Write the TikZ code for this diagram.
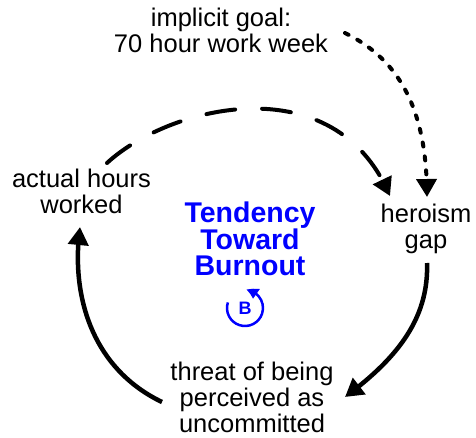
\documentclass[tikz,border=0pt]{standalone}
\usepackage{fontspec}
\setmainfont{Liberation Sans}
\usetikzlibrary{arrows.meta,bending}
\definecolor{loopblue}{RGB}{0,0,255}
\newcommand\tightlines{\lineskiplimit=-100pt\relax}
\begin{document}
\begin{tikzpicture}[x=1pt,y=-1pt,
  varlabel/.style={align=center, inner sep=0pt, anchor=base,
    font=\fontsize{25.5}{26}\selectfont\tightlines},
  looptitle/.style={align=center, inner sep=0pt, anchor=base, text=loopblue,
    font=\fontsize{28.5}{26}\selectfont\bfseries\tightlines},
  tip/.style={-{Triangle[length=18pt,width=20pt]}},
  solidlink/.style={tip, line width=4.5pt},
  delaylink/.style={tip, line width=4pt, line cap=round, dash pattern=on 29pt off 27pt},
  goallink/.style={tip, line width=4pt, line cap=round, dash pattern=on 4pt off 10pt},
]
\useasboundingbox (0,0) rectangle (476,438);

% variables (placed by the baseline of their last line)
\node[varlabel] (goal)   at (221,53)  {implicit goal:\\70 hour work week};
\node[varlabel] (actual) at (81.5,214) {actual hours\\worked};
\node[varlabel] (hero)   at (426,248) {heroism\\gap};
\node[varlabel] (threat) at (252,432) {threat of being\\perceived as\\uncommitted};

% loop name and balancing marker
\node[looptitle] (title) at (250,275) {Tendency\\Toward\\Burnout};
\node[text=loopblue, inner sep=0pt, font=\fontsize{18}{18}\selectfont\bfseries] (bsym) at (245,308) {B};
\draw[loopblue, line width=2.5pt, -{Triangle[length=11pt,width=11pt,bend]}]
  (bsym.center) ++(198:18) arc[start angle=198, end angle=-86, radius=18];

% causal links
\draw[delaylink] ([shift={(25.5,-51)}]actual.base)
  .. controls (170,105) and (335,65) .. ([shift={(-36,-52)}]hero.base);
\draw[goallink] ([shift={(124,-20)}]goal.base)
  .. controls (400,60) and (427,110) .. ([shift={(1,-51)}]hero.base);
\draw[solidlink] ([shift={(1,15)}]hero.base)
  .. controls (429,320) and (395,360) .. ([shift={(93,-35)}]threat.base);
\draw[solidlink] ([shift={(-90,-30)}]threat.base)
  .. controls (95,370) and (70,300) .. ([shift={(-1.5,13)}]actual.base);
\end{tikzpicture}
\end{document}
